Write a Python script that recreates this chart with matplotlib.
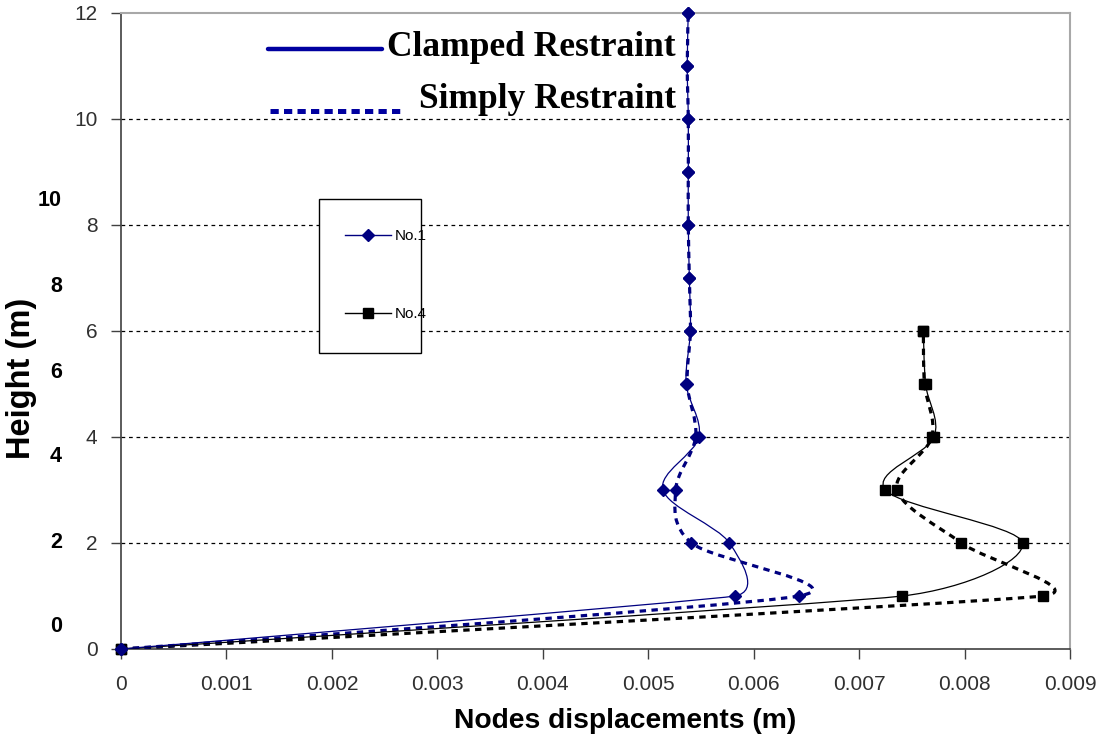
import numpy as np
import matplotlib
matplotlib.use("Agg")
import matplotlib.pyplot as plt
from matplotlib.path import Path
from matplotlib.patches import PathPatch, Rectangle
from matplotlib.lines import Line2D

# Heights of the nodes (m)
heights_no1 = [0, 1, 2, 3, 4, 5, 6, 7, 8, 9, 10, 11, 12]
heights_no4 = [0, 1, 2, 3, 4, 5, 6]

# Node displacements (m)
no1_clamped = [0, 0.00582, 0.00577, 0.00514, 0.00548, 0.00536, 0.00540,
               0.00539, 0.00538, 0.00538, 0.00538, 0.00537, 0.00538]
no1_simply = [0, 0.00643, 0.00541, 0.00526, 0.00545, 0.00537, 0.00540,
              0.00539, 0.00538, 0.00538, 0.00538, 0.00537, 0.00538]
no4_clamped = [0, 0.00741, 0.00855, 0.00725, 0.00771, 0.00763, 0.00761]
no4_simply = [0, 0.00874, 0.00797, 0.00736, 0.00769, 0.00762, 0.00761]

x_ticks = [0, 0.001, 0.002, 0.003, 0.004, 0.005, 0.006, 0.007, 0.008, 0.009]
y_ticks = [0, 2, 4, 6, 8, 10, 12]
side_labels = ["10", "8", "6", "4", "2", "0"]

BLUE = "#000080"
W, H = 1106, 742

plt.rcParams["font.family"] = ["Liberation Sans", "DejaVu Sans"]

fig = plt.figure(figsize=(W / 100, H / 100), dpi=100)
ax = fig.add_axes([121 / W, 1 - 649 / H, (1070 - 121) / W, (649 - 13) / H])
ax.set_xlim(0, 0.009)
ax.set_ylim(0, 12)


def fx(px):
    return px / W


def fy(py):
    return 1 - py / H


def smooth_path(xs, ys):
    """Cubic Bezier path through the points.  The tangent at each inner
    point follows its two neighbours; the handle is a sixth of the
    neighbour distance, capped at half of the shorter adjacent segment
    (all lengths measured on screen)."""
    pts = np.column_stack([xs, ys]).astype(float)
    scr = ax.transData.transform(pts)
    n = len(pts)
    c_in = pts.copy()
    c_out = pts.copy()
    for i in range(1, n - 1):
        d_prev = np.hypot(*(scr[i] - scr[i - 1]))
        d_next = np.hypot(*(scr[i + 1] - scr[i]))
        t_len = np.hypot(*(scr[i + 1] - scr[i - 1]))
        if t_len == 0:
            continue
        handle = min(t_len / 6.0, 0.5 * min(d_prev, d_next)) / t_len
        tangent = pts[i + 1] - pts[i - 1]
        c_in[i] = pts[i] - handle * tangent
        c_out[i] = pts[i] + handle * tangent
    verts = [pts[0]]
    codes = [Path.MOVETO]
    for i in range(n - 1):
        verts += [c_out[i], c_in[i + 1], pts[i + 1]]
        codes += [Path.CURVE4] * 3
    return Path(verts, codes)


def draw_series(xs, ys, color, marker, ms, dashed):
    if dashed:
        patch = PathPatch(smooth_path(xs, ys), fill=False, edgecolor=color,
                          lw=2.3, linestyle=(0, (2.0, 1.7)), capstyle="butt",
                          zorder=3)
    else:
        patch = PathPatch(smooth_path(xs, ys), fill=False, edgecolor=color,
                          lw=0.9, zorder=4)
    ax.add_patch(patch)
    ax.plot(xs, ys, linestyle="none", marker=marker, ms=ms, color=color,
            mec=color, zorder=5, clip_on=False)


draw_series(no4_simply, heights_no4, "black", "s", 7, True)
draw_series(no4_clamped, heights_no4, "black", "s", 7, False)
draw_series(no1_simply, heights_no1, BLUE, "D", 6.5, True)
draw_series(no1_clamped, heights_no1, BLUE, "D", 6.5, False)

ax.set_xticks(x_ticks)
ax.set_xticklabels(["0" if v == 0 else f"{v:.3f}" for v in x_ticks])
ax.set_yticks(y_ticks)
ax.set_yticklabels([str(v) for v in y_ticks])
ax.tick_params(axis="both", direction="out", length=7, width=1,
               color="#404040", labelsize=15, labelcolor="#303030")
ax.tick_params(axis="x", pad=12)
ax.tick_params(axis="y", pad=10)

for y in [2, 4, 6, 8, 10]:
    ax.axhline(y, color="black", lw=0.9, linestyle=(0, (3, 3)), zorder=1)

ax.spines["left"].set_color("#404040")
ax.spines["bottom"].set_color("#404040")
ax.spines["left"].set_linewidth(1.2)
ax.spines["bottom"].set_linewidth(1.2)
ax.spines["top"].set_color("#a8a8a8")
ax.spines["right"].set_color("#a8a8a8")
ax.spines["top"].set_linewidth(1.5)
ax.spines["right"].set_linewidth(1.5)

# Axis titles
fig.text(fx(625), fy(721), "Nodes displacements (m)", ha="center",
         va="center", fontsize=20.3, fontweight="bold")
fig.text(fx(22), fy(378), "Height (m)", ha="center", va="center",
         rotation=90, fontsize=23.5, fontweight="bold")

# Secondary height labels on the left
for lab, py in zip(side_labels, [201, 287, 372, 457, 542, 626]):
    fig.text(fx(62), fy(py), lab, ha="right", va="center", fontsize=15.5,
             fontweight="bold")

# Restraint type key
fig.add_artist(Line2D([fx(268), fx(382)], [fy(49), fy(49)], color="#0000a0",
                      lw=3.2, solid_capstyle="round"))
fig.add_artist(Line2D([fx(270), fx(403)], [fy(111), fy(111)], color="#0000a0",
                      lw=3.6, linestyle=(0, (1.65, 1.05)),
                      dash_capstyle="butt"))
fig.text(fx(676), fy(47), "Clamped Restraint", ha="right", va="center",
         fontsize=25.5, fontweight="bold", family="Liberation Serif")
fig.text(fx(676), fy(100), "Simply Restraint", ha="right", va="center",
         fontsize=25.5, fontweight="bold", family="Liberation Serif")

# Node series key
fig.add_artist(Rectangle((fx(319), fy(353)), fx(421) - fx(319),
                         fy(199) - fy(353), fill=True, facecolor="white",
                         edgecolor="black", lw=1.0, zorder=6))
fig.add_artist(Line2D([fx(345), fx(391)], [fy(235), fy(235)], color=BLUE,
                      lw=1.0, zorder=7))
fig.add_artist(Line2D([fx(368)], [fy(235)], marker="D", ms=6, color=BLUE,
                      lw=0, zorder=8))
fig.text(fx(395), fy(236), "No.1", ha="left", va="center", fontsize=11,
         zorder=8)
fig.add_artist(Line2D([fx(345), fx(391)], [fy(313), fy(313)], color="black",
                      lw=1.0, zorder=7))
fig.add_artist(Line2D([fx(368)], [fy(313)], marker="s", ms=6.5, color="black",
                      lw=0, zorder=8))
fig.text(fx(395), fy(314), "No.4", ha="left", va="center", fontsize=11,
         zorder=8)

fig.savefig("out.png", dpi=100)
